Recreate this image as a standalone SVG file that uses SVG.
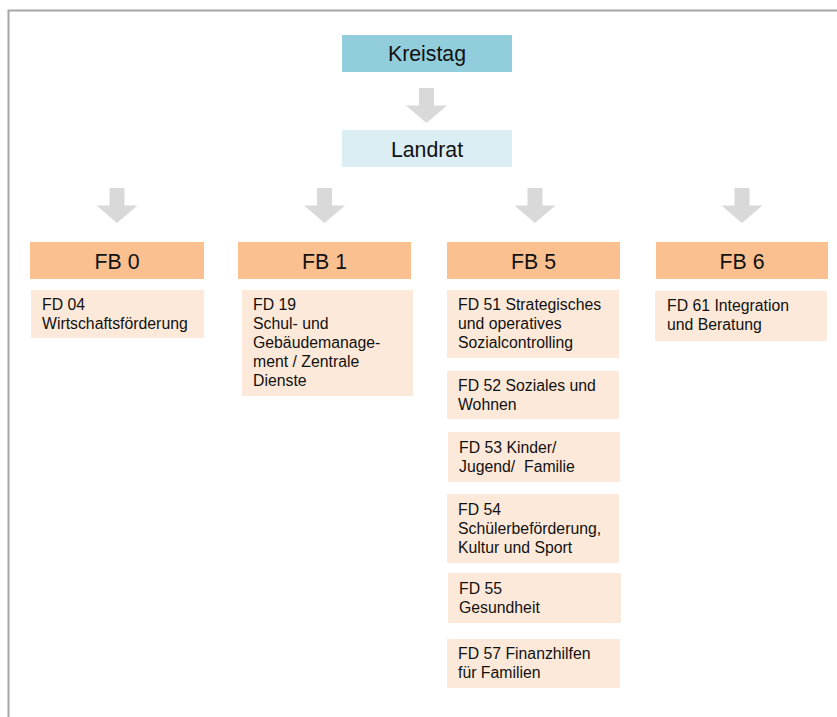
<svg xmlns="http://www.w3.org/2000/svg" width="837" height="717" viewBox="0 0 837 717">
<style>
text{font-family:"Liberation Sans",Arial,sans-serif;fill:#111}
.h{font-size:21.3px;text-anchor:middle}
.t{font-size:15.8px}
.fb{fill:#FAC090}
.fd{fill:#FDE9D9}
.arr{fill:#D9D9D9}
</style>
<defs>
<path id="a" d="M-7.5,0 H7.5 V17.5 H20.5 L0,35 L-20.5,17.5 H-7.5 Z"/>
</defs>
<rect x="0" y="0" width="837" height="717" fill="#fff"/>
<path d="M8.5,717 V10.5 H837" fill="none" stroke="#A6A6A6" stroke-width="2"/>
<g id="connectors" class="arr">
<use href="#a" x="426.5" y="88"/>
<use href="#a" x="117" y="188"/>
<use href="#a" x="324.5" y="188"/>
<use href="#a" x="535" y="188"/>
<use href="#a" x="742" y="188"/>
</g>
<g id="kreistag"><rect x="342" y="35" width="170" height="37" fill="#92CDDC"/><text class="h" x="427" y="61">Kreistag</text></g>
<g id="landrat"><rect x="342" y="130" width="170" height="37" fill="#DBEEF4"/><text class="h" x="427" y="157">Landrat</text></g>
<g id="fb0"><rect class="fb" x="30" y="242" width="174" height="37"/><text class="h" x="117" y="269">FB 0</text></g>
<g id="fb1"><rect class="fb" x="238" y="242" width="173" height="37"/><text class="h" x="324.5" y="269">FB 1</text></g>
<g id="fb5"><rect class="fb" x="447" y="242" width="173" height="37"/><text class="h" x="533.5" y="269">FB 5</text></g>
<g id="fb6"><rect class="fb" x="656" y="242" width="172" height="37"/><text class="h" x="742" y="269">FB 6</text></g>
<g id="fd04"><rect class="fd" x="31" y="290" width="173" height="48"/><text class="t" x="42" y="310">FD 04<tspan x="42" dy="19">Wirtschaftsförderung</tspan></text></g>
<g id="fd19"><rect class="fd" x="242" y="290" width="171" height="106"/><text class="t" x="253" y="310">FD 19<tspan x="253" dy="19">Schul- und</tspan><tspan x="253" dy="19">Gebäudemanage-</tspan><tspan x="253" dy="19">ment / Zentrale</tspan><tspan x="253" dy="19">Dienste</tspan></text></g>
<g id="fd51"><rect class="fd" x="447" y="290" width="172" height="68"/><text class="t" x="458" y="310">FD 51 Strategisches<tspan x="458" dy="19">und operatives</tspan><tspan x="458" dy="19">Sozialcontrolling</tspan></text></g>
<g id="fd52"><rect class="fd" x="447" y="371" width="172" height="48"/><text class="t" x="458" y="391">FD 52 Soziales und<tspan x="458" dy="19">Wohnen</tspan></text></g>
<g id="fd53"><rect class="fd" x="448" y="432" width="172" height="50"/><text class="t" x="459" y="453">FD 53 Kinder/<tspan x="459" dy="19">Jugend/&#160; Familie</tspan></text></g>
<g id="fd54"><rect class="fd" x="447" y="494" width="172" height="69"/><text class="t" x="458" y="515">FD 54<tspan x="458" dy="19">Schülerbeförderung,</tspan><tspan x="458" dy="19">Kultur und Sport</tspan></text></g>
<g id="fd55"><rect class="fd" x="448" y="573" width="173" height="50"/><text class="t" x="459" y="594">FD 55<tspan x="459" dy="19">Gesundheit</tspan></text></g>
<g id="fd57"><rect class="fd" x="447" y="639" width="173" height="49"/><text class="t" x="458" y="659">FD 57 Finanzhilfen<tspan x="458" dy="19">für Familien</tspan></text></g>
<g id="fd61"><rect class="fd" x="655" y="291" width="172" height="50"/><text class="t" x="667" y="311">FD 61 Integration<tspan x="667" dy="19">und Beratung</tspan></text></g>
</svg>
